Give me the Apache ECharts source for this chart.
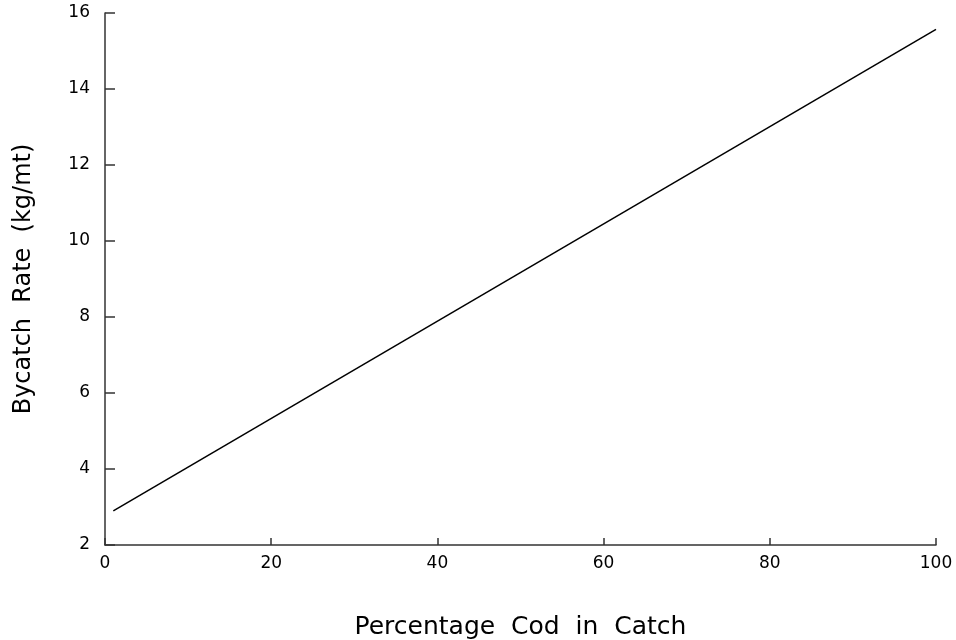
<!DOCTYPE html>
<html><head><meta charset="utf-8">
<script src="https://cdn.jsdelivr.net/npm/echarts@6/dist/echarts.min.js"></script>
<style>html,body{margin:0;padding:0;background:#fff}#c{width:956px;height:640px}</style>
</head><body><div id="c"></div>
<script>
const xValues = [1, 100];
const yValues = [2.9, 15.57];
const xTicks = [0, 20, 40, 60, 80, 100];
const yTicks = [2, 4, 6, 8, 10, 12, 14, 16];
const xTitle = 'Percentage  Cod  in  Catch';
const yTitle = 'Bycatch  Rate  (kg/mt)';

const chart = echarts.init(document.getElementById('c'));
const font = 'DejaVu Sans, sans-serif';
chart.setOption({
  animation: false,
  grid: { left: 105, right: 20, top: 13, bottom: 95, outerBoundsMode: 'none', containLabel: false },
  xAxis: {
    type: 'value', min: xTicks[0], max: xTicks[xTicks.length-1], interval: 20,
    name: xTitle, nameLocation: 'middle', nameGap: 70,
    nameTextStyle: { fontFamily: font, fontSize: 25, color: '#000' },
    axisLine: { show: true, lineStyle: { color: '#333', width: 1.5 } },
    axisTick: { show: true, inside: true, length: 7, lineStyle: { color: '#333', width: 1.5 } },
    axisLabel: { fontFamily: font, fontSize: 17, color: '#000', margin: 10 },
    splitLine: { show: false }
  },
  yAxis: {
    type: 'value', min: yTicks[0], max: yTicks[yTicks.length-1], interval: 2,
    name: yTitle, nameLocation: 'middle', nameGap: 69,
    nameTextStyle: { fontFamily: font, fontSize: 24, color: '#000' },
    axisLine: { show: true, lineStyle: { color: '#333', width: 1.5 } },
    axisTick: { show: true, inside: true, length: 10, lineStyle: { color: '#333', width: 1.5 } },
    axisLabel: { fontFamily: font, fontSize: 17, color: '#000', margin: 15 },
    splitLine: { show: false }
  },
  series: [{
    type: 'line', data: xValues.map((x, i) => [x, yValues[i]]),
    showSymbol: false, lineStyle: { color: '#000', width: 1.5 }
  }]
});
</script></body></html>
